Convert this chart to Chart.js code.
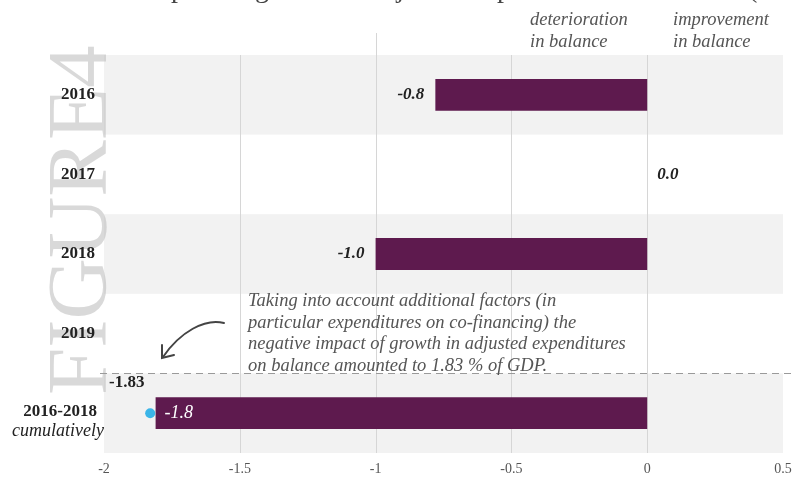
<!DOCTYPE html>
<html>
<head>
<meta charset="utf-8">
<script src="https://cdn.jsdelivr.net/npm/chart.js"></script>
<style>
  html, body { margin: 0; padding: 0; background: #fff; }
  #wrap { width: 796px; height: 480px; position: relative; }
</style>
</head>
<body>
<div id="wrap"><canvas id="chart" width="796" height="480"></canvas></div>

<script>

// data
const categories = ['2016', '2017', '2018', '2019', '2016-2018'];
const subLabels = ['', '', '', '', 'cumulatively'];
const balanceImpact = [-0.78, 0, -1.0, null, -1.81];
const valueLabels = ['-0.8', '0.0', '-1.0', '', '-1.8'];
const adjustedImpact = [null, null, null, null, -1.83];
const adjustedLabel = '-1.83';
const xTicks = [-2, -1.5, -1, -0.5, 0, 0.5];

const titleText = 'Impact of growth in adjusted expenditures on balance (% of GDP)';
const noteLines = [
  'Taking into account additional factors (in',
  'particular expenditures on co-financing) the',
  'negative impact of growth in adjusted expenditures',
  'on balance amounted to 1.83 % of GDP.'
];

const SERIF = '"Liberation Serif", "DejaVu Serif", serif';
const PLUM = '#5e1a4e';

const decorPlugin = {
  id: 'decor',
  beforeDatasetsDraw(chart) {
    const ctx = chart.ctx;
    const area = chart.chartArea;
    const y = chart.scales.y;
    const band = y.getPixelForValue(1) - y.getPixelForValue(0);

    ctx.save();
    // alternating row bands
    categories.forEach((c, i) => {
      if (i % 2 === 0) {
        const cy = y.getPixelForValue(i);
        ctx.fillStyle = '#f2f2f2';
        ctx.fillRect(area.left, cy - band / 2, area.right - area.left, band);
      }
    });

    // vertical grid on top of the bands
    const x = chart.scales.x;
    ctx.strokeStyle = '#d6d6d6';
    ctx.lineWidth = 1;
    xTicks.slice(1, -1).forEach(v => {
      const px = Math.round(x.getPixelForValue(v)) + 0.5;
      ctx.beginPath();
      ctx.moveTo(px, v === -1 ? 33 : area.top);
      ctx.lineTo(px, area.bottom);
      ctx.stroke();
    });

    // watermark
    ctx.translate(106, 395);
    ctx.rotate(-Math.PI / 2);
    ctx.fillStyle = 'rgba(185,185,185,0.55)';
    ctx.font = '85px ' + SERIF;
    ctx.textBaseline = 'alphabetic';
    ctx.textAlign = 'left';
    ctx.fillText('FIGURE4', 0, 0);
    ctx.restore();
  },
  afterDatasetsDraw(chart) {
    const ctx = chart.ctx;
    const y = chart.scales.y;
    const bars = chart.getDatasetMeta(0).data;

    ctx.save();
    // category labels
    ctx.textAlign = 'right';
    ctx.textBaseline = 'middle';
    categories.forEach((c, i) => {
      const cy = y.getPixelForValue(i);
      ctx.fillStyle = '#222';
      ctx.font = 'bold 17px ' + SERIF;
      if (subLabels[i]) {
        ctx.fillText(c, 97, cy - 2);
        ctx.font = 'italic 18px ' + SERIF;
        ctx.fillText(subLabels[i], 104, cy + 18);
      } else {
        ctx.fillText(c, 95, cy);
      }
    });

    // value labels
    bars.forEach((b, i) => {
      const v = balanceImpact[i];
      if (v === null) return;
      if (i === categories.length - 1) {
        ctx.fillStyle = '#fff';
        ctx.font = 'italic 18px ' + SERIF;
        ctx.textAlign = 'left';
        ctx.fillText(valueLabels[i], b.x + 9, b.y);
      } else if (v === 0) {
        ctx.fillStyle = '#222';
        ctx.font = 'bold italic 17px ' + SERIF;
        ctx.textAlign = 'left';
        ctx.fillText(valueLabels[i], b.x + 10, b.y);
      } else {
        ctx.fillStyle = '#222';
        ctx.font = 'bold italic 17px ' + SERIF;
        ctx.textAlign = 'right';
        ctx.fillText(valueLabels[i], b.x - 11, b.y);
      }
    });

    // adjusted value label
    const last = categories.length - 1;
    ctx.fillStyle = '#222';
    ctx.font = 'bold 17px ' + SERIF;
    ctx.textAlign = 'left';
    ctx.fillText(adjustedLabel, 109, y.getPixelForValue(last) - 31);

    // dashed separator
    const sepY = Math.round(y.getPixelForValue(last - 0.5)) + 0.5;
    ctx.strokeStyle = '#9a9a9a';
    ctx.lineWidth = 1;
    ctx.setLineDash([7, 5]);
    ctx.beginPath();
    ctx.moveTo(100, sepY);
    ctx.lineTo(796, sepY);
    ctx.stroke();
    ctx.setLineDash([]);

    // note text
    ctx.fillStyle = '#555';
    ctx.font = 'italic 18.5px ' + SERIF;
    ctx.textAlign = 'left';
    ctx.textBaseline = 'alphabetic';
    noteLines.forEach((l, i) => ctx.fillText(l, 248, 306 + i * 21.5));

    // arrow
    ctx.strokeStyle = '#444';
    ctx.lineWidth = 2;
    ctx.lineCap = 'round';
    ctx.beginPath();
    ctx.moveTo(224, 323);
    ctx.bezierCurveTo(205, 318, 180, 332, 163, 357);
    ctx.stroke();
    ctx.beginPath();
    ctx.moveTo(162, 345);
    ctx.lineTo(162, 358);
    ctx.lineTo(174, 355);
    ctx.stroke();

    // header notes
    ctx.fillStyle = '#555';
    ctx.font = 'italic 18.5px ' + SERIF;
    ctx.fillText('deterioration', 530, 25);
    ctx.fillText('in balance', 530, 47);
    ctx.fillText('improvement', 673, 25);
    ctx.fillText('in balance', 673, 47);

    // title, cut off by the top edge
    ctx.fillStyle = '#444';
    ctx.font = '28px ' + SERIF;
    ctx.fillText(titleText, 140, -3);
    ctx.restore();
  }
};

new Chart(document.getElementById('chart'), {
  type: 'bar',
  data: {
    labels: categories,
    datasets: [
      {
        label: 'impact on balance',
        data: balanceImpact,
        backgroundColor: PLUM,
        borderWidth: 0,
        barPercentage: 0.4,
        categoryPercentage: 1.0,
        order: 2
      },
      {
        type: 'line',
        label: 'incl. additional factors',
        data: adjustedImpact,
        showLine: false,
        pointRadius: 5,
        pointHoverRadius: 5,
        pointBackgroundColor: '#3bb5e8',
        pointBorderWidth: 0,
        order: 1
      }
    ]
  },
  options: {
    indexAxis: 'y',
    responsive: false,
    animation: false,
    layout: { padding: { top: 55, right: 13, left: 0, bottom: 0 } },
    plugins: {
      legend: { display: false },
      tooltip: { enabled: false }
    },
    scales: {
      x: {
        min: -2,
        max: 0.5,
        afterBuildTicks(scale) { scale.ticks = xTicks.map(v => ({ value: v })); },
        grid: { display: false, drawTicks: false },
        border: { display: false },
        ticks: {
          color: '#555',
          padding: 8,
          font: { family: SERIF, size: 14 },
          callback: v => String(v)
        },
        afterFit(scale) {
          scale.height = 27;
          scale.paddingLeft = 0;
          scale.paddingRight = 0;
        }
      },
      y: {
        grid: { display: false, drawTicks: false },
        border: { display: false },
        ticks: { display: false },
        afterFit(scale) { scale.width = 104; }
      }
    }
  },
  plugins: [decorPlugin]
});
</script>
</body>
</html>
